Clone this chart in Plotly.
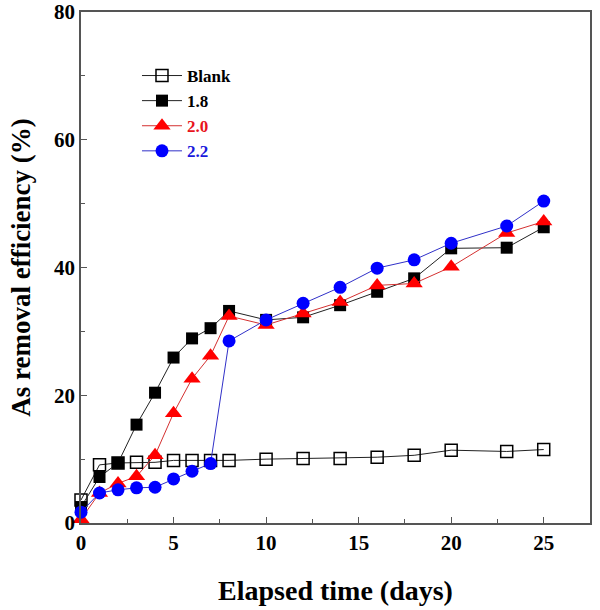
import plotly.graph_objects as go

days = [0, 1, 2, 3, 4, 5, 6, 7, 8, 10, 12, 14, 16, 18, 20, 23, 25]
blank = [3.6, 9.1, 9.4, 9.5, 9.5, 9.8, 9.8, 9.8, 9.8, 10.0, 10.1, 10.1, 10.3, 10.6, 11.4, 11.2, 11.5]
s18 = [2.5, 7.2, 9.4, 15.4, 20.4, 25.9, 28.9, 30.5, 33.2, 31.8, 32.2, 34.1, 36.2, 38.3, 43.0, 43.1, 46.3]
s20 = [0.6, 4.7, 6.2, 7.3, 10.6, 17.2, 22.6, 26.2, 32.4, 31.0, 32.8, 34.6, 37.2, 37.5, 40.1, 45.4, 47.2]
s22 = [1.7, 4.7, 5.2, 5.5, 5.6, 6.9, 8.1, 9.3, 28.5, 31.8, 34.4, 36.9, 39.9, 41.2, 43.8, 46.5, 50.4]

names = ["Blank", "1.8", "2.0", "2.2"]
label_colors = ["black", "black", "#e8141c", "#1a1adc"]
line_colors = ["#222222", "#222222", "#d43030", "#3030c8"]
symbols = ["square-open", "square", "triangle-up", "circle"]
marker_colors = ["black", "black", "#ff0000", "#0000ff"]
sizes = [12, 12, 15, 13]
series = [blank, s18, s20, s22]

fig = go.Figure()
for nm, lc, lnc, sym, mc, sz, ys in zip(names, label_colors, line_colors, symbols, marker_colors, sizes, series):
    fig.add_trace(go.Scatter(
        x=days, y=ys, mode="lines+markers",
        name=f"<span style='color:{lc}'>{nm}</span>",
        line=dict(color=lnc, width=1),
        marker=dict(symbol=sym, size=sz, color=mc,
                    line=dict(color=mc, width=1.5 if sym == "square-open" else 0)),
        cliponaxis=False,
    ))

axis_common = dict(
    showline=True, linecolor="#555555", linewidth=1.5, mirror=True,
    ticks="inside", ticklen=6, tickwidth=1.2, tickcolor="#555555",
    showgrid=False, zeroline=False, automargin=False,
    ticklabeloverflow="allow",
    tickfont=dict(family="Liberation Serif", size=21, color="black", weight="bold"),
)

fig.update_layout(
    width=600, height=610,
    paper_bgcolor="white", plot_bgcolor="white",
    margin=dict(l=81, r=10, t=12, b=87),
    font=dict(family="Liberation Serif", color="black"),
    xaxis=dict(range=[0, 27.5], tickvals=[0, 5, 10, 15, 20, 25],
               minor=dict(tickvals=[2.5, 7.5, 12.5, 17.5, 22.5], ticks="inside", ticklen=4, tickcolor="#555555"),
               title=dict(text="Elapsed time (days)", standoff=26,
                          font=dict(family="Liberation Serif", size=28, weight="bold")),
               **axis_common),
    yaxis=dict(range=[0, 80], tickvals=[0, 20, 40, 60, 80],
               minor=dict(tickvals=[10, 30, 50, 70], ticks="inside", ticklen=4, tickcolor="#555555"),
               title=dict(text="As removal efficiency (%)", standoff=16,
                          font=dict(family="Liberation Serif", size=27, weight="bold")),
               **axis_common),
    legend=dict(x=0.11, y=0.91, xanchor="left", yanchor="top",
                bgcolor="rgba(0,0,0,0)", tracegroupgap=0,
                font=dict(family="Liberation Serif", size=17, weight="bold"),
                itemwidth=40),
    showlegend=True,
)

fig.write_html("out.html", config={"displayModeBar": False},
               post_script="document.body.style.margin='0';document.body.style.overflow='hidden';")
